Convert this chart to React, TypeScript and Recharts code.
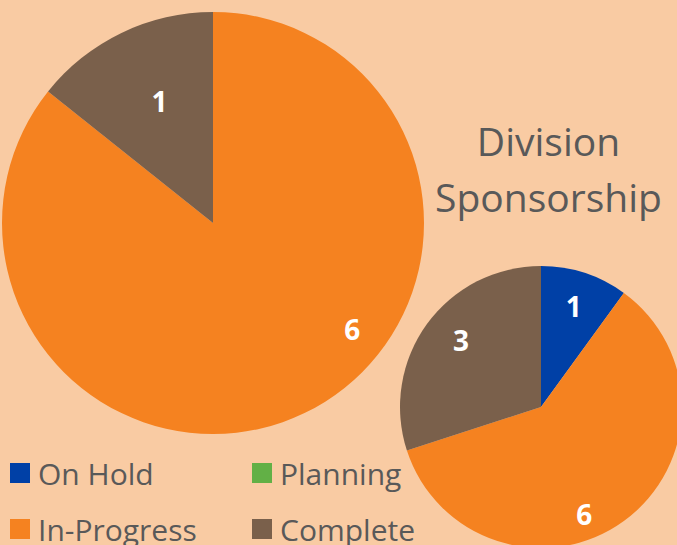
import { Cell, Legend, Pie, PieChart } from "recharts";

const categories = ["On Hold", "Planning", "In-Progress", "Complete"];
const overallValues = [0, 0, 6, 1];
const divisionValues = [1, 0, 6, 3];
const chartTitle = ["Division", "Sponsorship"];

const colors = ["#0040A6", "#62B046", "#F58220", "#7A604B"];
const bg = "#F9CBA3";
const font = "'Open Sans', 'Segoe UI', sans-serif";

// label placement tweaks (radius fraction, angle shift in degrees), per pie and category
const overallLabelPos = [
  { r: 0.7, shift: 0 },
  { r: 0.7, shift: 0 },
  { r: 0.83, shift: 27 },
  { r: 0.63, shift: -2 },
];
const divisionLabelPos = [
  { r: 0.75, shift: 0 },
  { r: 0.75, shift: 0 },
  { r: 0.82, shift: -14 },
  { r: 0.74, shift: -4 },
];

const overallData = categories.map((name, i) => ({ name, value: overallValues[i] }));
const divisionData = categories.map((name, i) => ({ name, value: divisionValues[i] }));

const RAD = Math.PI / 180;

function makeLabel(pos: { r: number; shift: number }[]) {
  return (props: any) => {
    const { cx, cy, midAngle, outerRadius, value, index } = props;
    if (!value) return null;
    const p = pos[index];
    const a = (midAngle + p.shift) * RAD;
    const x = cx + outerRadius * p.r * Math.cos(a);
    const y = cy - outerRadius * p.r * Math.sin(a);
    return (
      <text
        x={x}
        y={y}
        fill="#fff"
        fontFamily={font}
        fontWeight={700}
        fontSize={28}
        textAnchor="middle"
        dominantBaseline="central"
      >
        {value}
      </text>
    );
  };
}

function LegendBox() {
  return (
    <div
      style={{
        display: "grid",
        gridTemplateColumns: "242px 200px",
        rowGap: 8,
        fontFamily: font,
        fontSize: 30,
        color: "#595959",
      }}
    >
      {categories.map((c, i) => (
        <div key={c} style={{ display: "flex", alignItems: "center", gap: 8, height: 48 }}>
          <span style={{ width: 20, height: 20, background: colors[i], display: "inline-block" }} />
          <span>{c}</span>
        </div>
      ))}
    </div>
  );
}

export default function App() {
  return (
    <div
      style={{
        position: "fixed",
        left: 0,
        top: 0,
        width: 677,
        height: 545,
        overflow: "hidden",
        background: bg,
      }}
    >
      <PieChart width={677} height={545} margin={{ top: 0, right: 0, bottom: 0, left: 0 }}>
        <Pie
          data={overallData}
          dataKey="value"
          nameKey="name"
          cx={213}
          cy={223}
          outerRadius={211}
          startAngle={90}
          endAngle={-270}
          stroke="none"
          labelLine={false}
          label={makeLabel(overallLabelPos)}
          isAnimationActive={false}
        >
          {overallData.map((_, i) => (
            <Cell key={i} fill={colors[i]} />
          ))}
        </Pie>
        <Pie
          data={divisionData}
          dataKey="value"
          nameKey="name"
          cx={541}
          cy={407}
          outerRadius={141}
          startAngle={90}
          endAngle={-270}
          stroke="none"
          labelLine={false}
          label={makeLabel(divisionLabelPos)}
          isAnimationActive={false}
        >
          {divisionData.map((_, i) => (
            <Cell key={i} fill={colors[i]} />
          ))}
        </Pie>
        <Legend
          content={() => <LegendBox />}
          wrapperStyle={{ position: "absolute", left: 10, top: 449, width: 450, bottom: "auto" }}
        />
      </PieChart>
      <div
        style={{
          position: "absolute",
          left: 420,
          top: 113,
          width: 257,
          textAlign: "center",
          fontFamily: font,
          fontSize: 39,
          lineHeight: "56px",
          color: "#595959",
        }}
      >
        {chartTitle.map((t) => (
          <div key={t}>{t}</div>
        ))}
      </div>
    </div>
  );
}
